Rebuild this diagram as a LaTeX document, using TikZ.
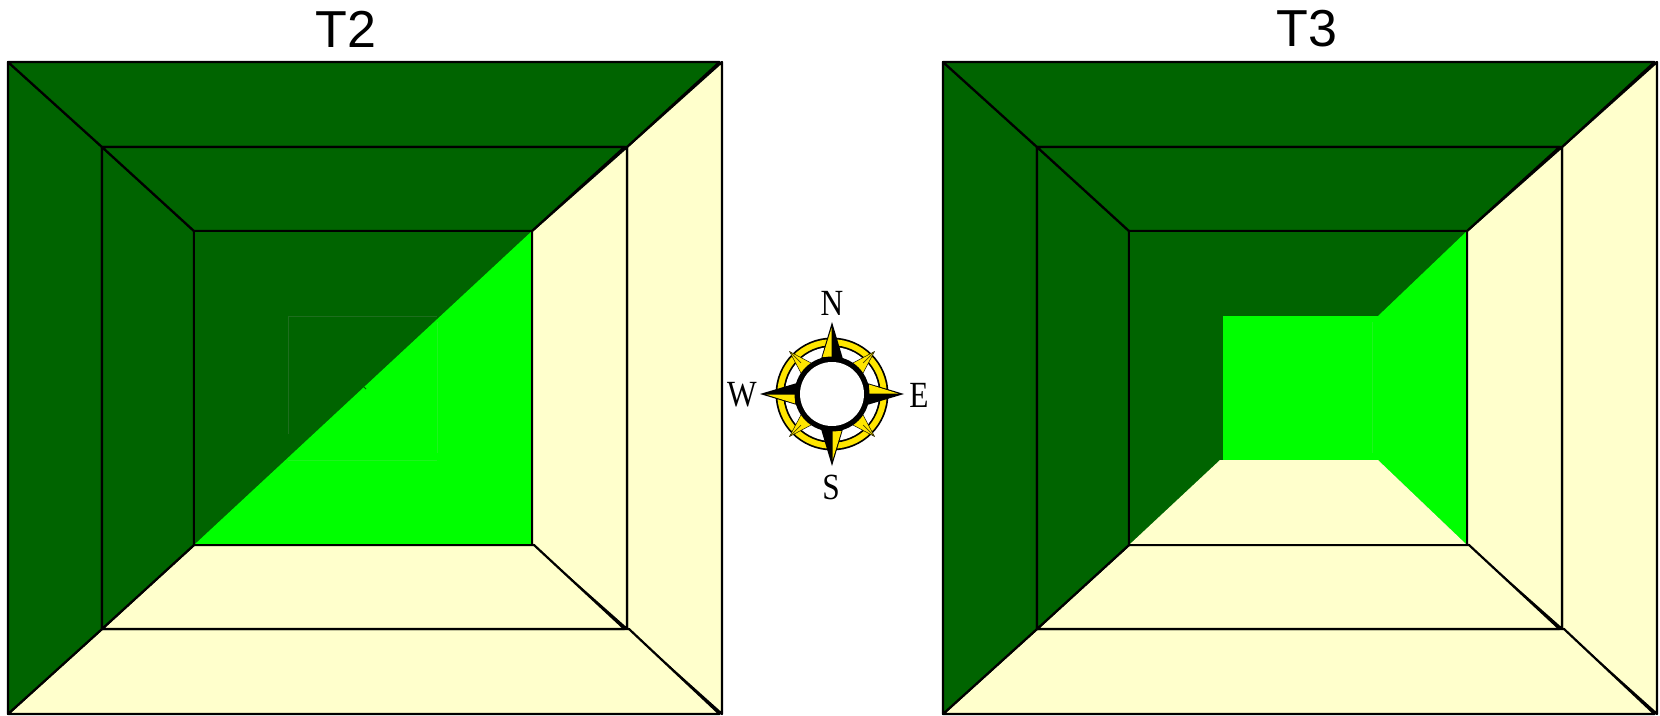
\documentclass[tikz,border=0pt]{standalone}
\usepackage{fontspec}
\setmainfont{Liberation Serif}
\newfontfamily\titlefont{Liberation Sans}
\definecolor{wallDark}{RGB}{0,100,0}
\definecolor{wallBright}{RGB}{0,255,0}
\definecolor{wallPale}{RGB}{255,255,204}
\definecolor{faintDark}{RGB}{30,110,30}
\definecolor{faintBright}{RGB}{30,245,30}
\definecolor{roseYellow}{RGB}{255,230,0}
\begin{document}
\begin{tikzpicture}[
    x=0.02cm, y=-0.02cm,
    wall/.style={fill=#1, draw=black, line width=1.25pt, line join=round},
    patch/.style={fill=#1, draw=none},
    faint/.style={draw=#1, line width=0.3pt},
    heading/.style={font=\titlefont\fontsize{29.6}{30}\selectfont, inner sep=0pt},
    point/.style={font=\fontsize{21}{21}\selectfont, inner sep=0pt, xscale=0.85}
]
\useasboundingbox (0,0) rectangle (1660,716);
% both corridors share the two outer rings
\foreach \dx in {0,935} {
  \begin{scope}[shift={(\dx,0)}]
    \foreach \lx/\ty/\rx/\by/\ilx/\ity/\irx/\iby in {8/62/722/714/102/147/627/629, 102/147/627/629/194/231/532/545} {
      \draw[wall=wallPale] (\rx,\ty) -- (\rx,\by) -- (\irx,\iby) -- (\irx,\ity) -- cycle;
      \draw[wall=wallPale] (\lx,\by) -- (\rx-2.5,\by) -- (\irx+2,\iby) -- (\ilx,\iby) -- cycle;
      \draw[wall=wallDark] (\lx,\ty) -- (\lx,\by) -- (\ilx,\iby) -- (\ilx,\ity) -- cycle;
      \draw[wall=wallDark] (\lx,\ty) -- (\rx-2.5,\ty) -- (\irx,\ity) -- (\ilx,\ity) -- cycle;
    }
    \fill[wallDark] (194,231) rectangle (532,545);
  \end{scope}
}
% T2
\fill[wallBright] (532,231) -- (532,545) -- (194,545) -- cycle;
\draw[faint=faintDark] (288,434) -- (288,316) -- (437,316);
\draw[faint=faintBright] (437,322) -- (437,453);
\draw[faint=faintBright] (288,460) -- (437,460);
\draw[wallDark, line width=0.5pt] (364,387) -- (366,389);
% T3
\fill[wallBright] (1223,316) -- (1378,316) -- (1467,231) -- (1467,545) -- (1378,460) -- (1223,460) -- cycle;
\fill[wallPale] (1129,545) -- (1220,460) -- (1378,460) -- (1467,545) -- cycle;
\draw[faint=faintBright] (1372,322) -- (1372,453);
% inner frames on top of the fills
\foreach \dx in {0,935} {
  \draw[black, line width=1.25pt] (194+\dx,545) rectangle (532+\dx,231);
}
\node[heading] (titleA) at (346,29) {T2};
\node[heading] (titleB) at (1307,29) {T3};
% compass
\begin{scope}[shift={(832,394)}, x=0.02cm, y=0.02cm]
  \fill[black] (0,0) circle[radius=1.13cm];
  \fill[roseYellow] (0,0) circle[radius=1.095cm];
  \fill[black] (0,0) circle[radius=0.975cm];
  \fill[white] (0,0) circle[radius=0.94cm];
  \foreach \a in {45,135,225,315} {
    \begin{scope}[rotate=\a]
      \draw[patch=roseYellow, draw=black, line width=0.25pt] (-8,34) -- (0,60) -- (8,34) -- cycle;
      \draw[black!70!roseYellow, line width=0.4pt] (0,44) -- (0,60);
    \end{scope}
  }
  \foreach \a in {0,-90,180,90} {
    \begin{scope}[rotate=\a]
      \fill[black] (0,72) -- (11,35) -- (-11,35) -- cycle;
      \fill[roseYellow] (-0.5,66) -- (-9.5,37) -- (-0.5,37) -- cycle;
    \end{scope}
  }
  \fill[black] (0,0) circle[radius=0.75cm];
  \fill[white] (0,0) circle[radius=0.64cm];
\end{scope}
\node[point] (north) at (832,303) {N};
\node[point] (west) at (742,395) {W};
\node[point] (east) at (919,395) {E};
\node[point] (south) at (831,487) {S};
\end{tikzpicture}
\end{document}
